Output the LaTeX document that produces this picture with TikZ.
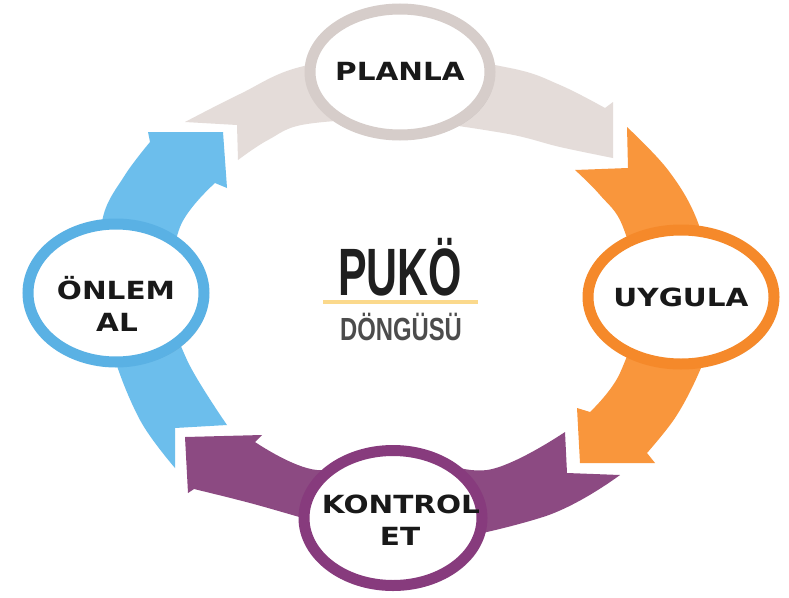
\documentclass[tikz,border=0pt]{standalone}
\usepackage{fontspec}
\usepackage{graphicx}
\usetikzlibrary{shapes.geometric,shadows}
\newfontfamily\lblfont{DejaVu Sans}
\newfontfamily\titlefont{Liberation Sans}
\definecolor{greyband}{HTML}{E4DCD9}
\definecolor{greyring}{HTML}{D6CDCA}
\definecolor{orangeband}{HTML}{F9963C}
\definecolor{orangering}{HTML}{F5892A}
\definecolor{purpleband}{HTML}{8C4A82}
\definecolor{purplering}{HTML}{873B7D}
\definecolor{blueband}{HTML}{6CBEEC}
\definecolor{bluering}{HTML}{5AB1E4}
\definecolor{lineyellow}{HTML}{FBD98C}
\begin{document}
\begin{tikzpicture}[x=1pt,y=-1pt,
  stage/.style={ellipse, fill=white, line width=11pt, inner sep=0pt,
    drop shadow={shadow xshift=4pt,shadow yshift=-4pt,opacity=0.28}},
  lbl/.style={font=\lblfont\bfseries\fontsize{25}{32}\selectfont, text=black!90, anchor=base},
  band/.style={line join=miter}]
\useasboundingbox (0,0) rectangle (789,597);
\fill[white] (0,0) rectangle (789,597);

% grey band (PLANLA)
\fill[greyband] (185,122) -- plot[smooth,tension=0.6] coordinates {(185,122) (240,94) (300,67) (400,53) (510,68) (560,85) (605,108)}
  -- (613,102) -- (613,158)
  -- plot[smooth,tension=0.6] coordinates {(613,158) (560,147) (503,133) (400,120) (307,124) (268,140) (238,160)}
  -- (237,125) -- cycle;

% orange band (UYGULA)
\fill[orangeband] (627,127) -- plot[smooth,tension=0.6] coordinates {(627,127) (668,170) (697,220) (715,290) (710,340) (697,377) (675,418) (647,453)}
  -- (655,463) -- (580,463) -- (577,408) -- (590,412)
  -- plot[smooth,tension=0.6] coordinates {(590,412) (620,373) (640,300) (623,227) (600,195) (575,170)}
  -- (628,168) -- cycle;

% purple band (KONTROL ET)
\fill[purpleband] (620,475) -- (567,473) -- (565,432)
  -- plot[smooth,tension=0.6] coordinates {(565,432) (487,470) (400,455) (317,470) (255,442)}
  -- (262,435) -- (185,437) -- (188,493) -- (194,489)
  -- plot[smooth,tension=0.6] coordinates {(194,489) (250,503) (310,520) (400,545) (543,517) (620,475)}
  -- cycle;

% blue band (ONLEM AL)
\fill[blueband] (227,425) -- (175,428) -- (175,468)
  -- plot[smooth,tension=0.6] coordinates {(175,468) (140,420) (112,350) (100,280) (103,217) (125,175) (150,142)}
  -- (148,132) -- (223,132) -- (227,188) -- (215,183)
  -- plot[smooth,tension=0.6] coordinates {(215,183) (180,227) (170,300) (187,360) (227,425)}
  -- cycle;

% stage ellipses
\node[stage, draw=greyring, minimum width=180pt, minimum height=126pt] (planla) at (400,72) {};
\node[stage, draw=orangering, minimum width=186pt, minimum height=134pt] (uygula) at (681,297) {};
\node[stage, draw=bluering, minimum width=176pt, minimum height=138pt] (onlem) at (116,293) {};
\node[stage, draw=purplering, minimum width=178pt, minimum height=135pt] (kontrol) at (393,518) {};

% labels
\node[lbl] (tplan) at (400,80) {\scalebox{1.18}[1]{PLANLA}};
\node[lbl] (tuyg) at (681,306) {\scalebox{1.18}[1]{UYGULA}};
\node[lbl] (tonl1) at (116,299) {\scalebox{1.18}[1]{ÖNLEM}};
\node[lbl] (tonl2) at (117,331) {\scalebox{1.18}[1]{AL}};
\node[lbl] (tkon1) at (401,513) {\scalebox{1.18}[1]{KONTROL}};
\node[lbl] (tkon2) at (400,545) {\scalebox{1.18}[1]{ET}};

% centre title
\node[anchor=base, font=\titlefont\bfseries\fontsize{67}{67}\selectfont, text=black!88] (puko) at (400,295) {\scalebox{0.64}[1]{PUKÖ}};
\draw[lineyellow, line width=4pt] (323,302) -- (478,302);
\node[anchor=base, font=\titlefont\bfseries\fontsize{32}{32}\selectfont, text=black!70] (dongu) at (401,340) {\scalebox{0.745}[1]{DÖNGÜSÜ}};
\end{tikzpicture}
\end{document}
